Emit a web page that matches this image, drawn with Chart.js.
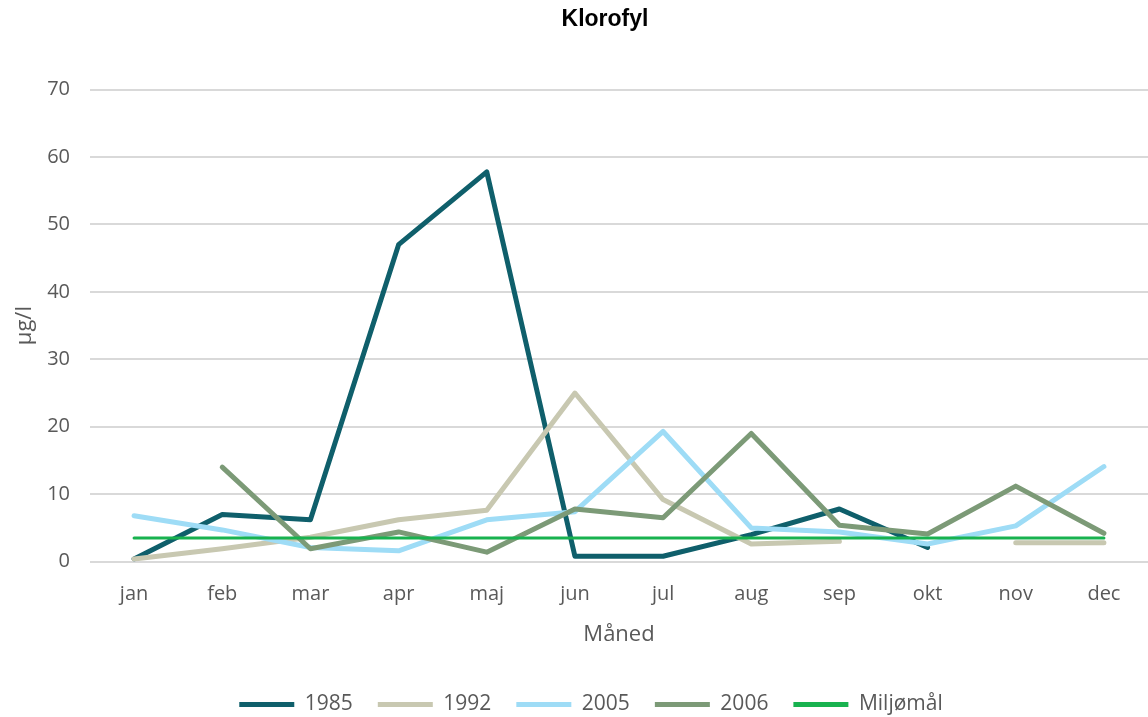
<!DOCTYPE html>
<html>
<head>
<meta charset="utf-8">
<script src="https://cdn.jsdelivr.net/npm/chart.js@4/dist/chart.umd.min.js"></script>
<style>
html,body{margin:0;padding:0;background:#fff;}
#wrap{width:1148px;height:717px;position:relative;}
</style>
</head>
<body>
<div id="wrap"><canvas id="c" width="1148" height="717"></canvas></div>
<script>
const months = ["jan","feb","mar","apr","maj","jun","jul","aug","sep","okt","nov","dec"];
const s1985 = [0.4, 7.0, 6.2, 47.0, 57.8, 0.8, 0.8, 4.0, 7.8, 2.1, null, null];
const s1992 = [0.4, 1.9, 3.6, 6.2, 7.6, 25.0, 9.2, 2.6, 3.0, null, 2.8, 2.8];
const s2005 = [6.8, 4.7, 2.1, 1.6, 6.2, 7.4, 19.3, 5.0, 4.4, 2.6, 5.3, 14.1];
const s2006 = [null, 14.0, 1.9, 4.4, 1.4, 7.8, 6.5, 19.0, 5.4, 4.1, 11.2, 4.2];
const miljomaal = [3.5, 3.5, 3.5, 3.5, 3.5, 3.5, 3.5, 3.5, 3.5, 3.5, 3.5, 3.5];
const yTicks = [0, 10, 20, 30, 40, 50, 60, 70];

const fam = "'Open Sans', 'Liberation Sans', sans-serif";
const tickFont = {family: fam, size: 20};
const grey = '#595959';

function ds(label, data, color, width, order){
  return {label, data, borderColor: color, backgroundColor: color, borderWidth: width,
    pointRadius: 0, pointHoverRadius: 0, tension: 0, spanGaps: false, order,
    borderCapStyle: 'round', borderJoinStyle: 'round', fill: false};
}

const shiftPlugin = {
  id: 'shiftBoxes',
  afterLayout(chart){
    if (chart.titleBlock){ chart.titleBlock.left += 31; chart.titleBlock.right += 31; }
    if (chart.legend){ chart.legend.left += 17; chart.legend.right += 17; }
  }
};

new Chart(document.getElementById('c'), {
  type: 'line',
  data: {
    labels: months,
    datasets: [
      ds('1985', s1985, '#0f5f6b', 5, 5),
      ds('1992', s1992, '#c8c8b1', 5, 4),
      ds('2005', s2005, '#9edcf6', 5, 3),
      ds('2006', s2006, '#7c9a77', 5, 2),
      ds('Miljømål', miljomaal, '#18b24f', 3, 1)
    ]
  },
  plugins: [shiftPlugin],
  options: {
    responsive: false,
    animation: false,
    layout: {padding: {left: 0, right: 0, top: 0, bottom: -8}},
    plugins: {
      title: {display: true, text: 'Klorofyl', color: '#000',
        font: {family: "'Liberation Sans', Arial, sans-serif", size: 23, weight: 'bold'},
        padding: {top: 6, bottom: 56}},
      legend: {position: 'bottom',
        labels: {color: grey, font: {family: fam, size: 21}, boxWidth: 55, boxHeight: 5, padding: 25,
          generateLabels(chart){
            return chart.data.datasets.map((d,i)=>({text: d.label, fillStyle: d.borderColor,
              strokeStyle: d.borderColor, lineWidth: 0, hidden: false, datasetIndex: i, fontColor: grey}));
          }}},
      tooltip: {enabled: false}
    },
    scales: {
      x: {offset: true,
        grid: {display: false},
        border: {display: false},
        ticks: {color: grey, font: tickFont, padding: 13},
        title: {display: true, text: 'Måned', color: grey, font: {family: fam, size: 22}, padding: {top: 2, bottom: 21}}
      },
      y: {min: 0, max: 70,
        afterBuildTicks(axis){ axis.ticks = yTicks.map(v=>({value: v})); },
        afterFit(axis){ axis.width = 90; },
        grid: {color: '#d9d9d9', lineWidth: 2, drawTicks: false},
        border: {display: false},
        ticks: {color: grey, font: tickFont, padding: 20},
        title: {display: true, text: 'µg/l', color: grey, font: {family: fam, size: 22}, padding: {top: 12, bottom: 0}}
      }
    }
  }
});
</script>
</body>
</html>
